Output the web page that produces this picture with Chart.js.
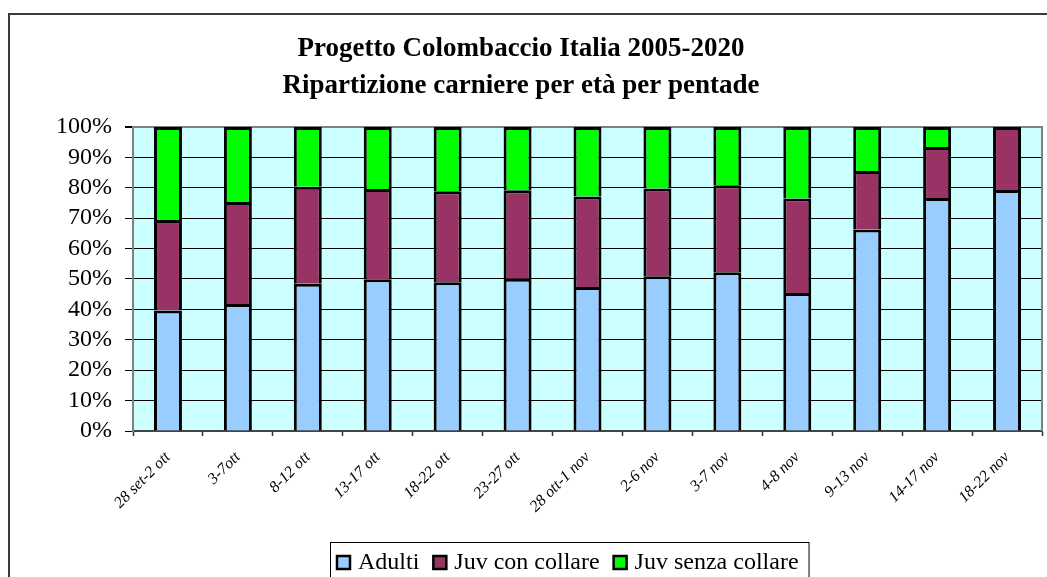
<!DOCTYPE html>
<html>
<head>
<meta charset="utf-8">
<script src="https://cdn.jsdelivr.net/npm/chart.js@4/dist/chart.umd.min.js"></script>
<style>
  html, body { margin: 0; padding: 0; background: #fff; overflow: hidden; }
  #wrap { position: relative; width: 1047px; height: 577px; overflow: hidden; }
  #frame { position: absolute; left: 8px; top: 13px; width: 1100px; height: 600px; border: 2px solid #3a3a3a; }
  #chart { position: absolute; left: 0; top: 0; }
</style>
</head>
<body>
<div id="wrap">
  <div id="frame"></div>
  <canvas id="chart" width="1072" height="577"></canvas>
</div>
<script>
const categories = ['28 set-2 ott', '3-7ott', '8-12 ott', '13-17 ott', '18-22 ott', '23-27 ott', '28 ott-1 nov', '2-6 nov', '3-7 nov', '4-8 nov', '9-13 nov', '14-17 nov', '18-22 nov'];
const adulti = [39.6, 41.8, 48.4, 49.9, 48.9, 50.1, 47.4, 50.9, 52.2, 45.4, 66.3, 76.6, 79.3];
const juvConCollare = [29.8, 33.5, 31.9, 29.7, 30.0, 29.1, 29.7, 28.9, 28.6, 31.1, 19.2, 16.8, 20.7];
const juvSenzaCollare = [30.6, 24.7, 19.7, 20.4, 21.1, 20.8, 22.9, 20.2, 19.2, 23.5, 14.5, 6.6, 0];
const seriesNames = ['Adulti', 'Juv con collare', 'Juv senza collare'];
const seriesColors = ['#99CCFF', '#993366', '#00FF00'];
const titleLines = ['Progetto Colombaccio Italia 2005-2020', 'Ripartizione carniere per età per pentade'];

const serif = '"Liberation Serif", "Times New Roman", serif';

// plot background + grey frame on top/right
const plotBackground = {
    id: 'plotBackground',
    beforeDraw(chart) {
        const { ctx, chartArea: a } = chart;
        ctx.save();
        ctx.fillStyle = '#CCFFFF';
        ctx.fillRect(a.left, a.top, a.right - a.left, a.bottom - a.top);
        ctx.restore();
    },
    beforeDatasetsDraw(chart) {
        const { ctx, chartArea: a } = chart;
        ctx.save();
        ctx.strokeStyle = '#808080';
        ctx.lineWidth = 2;
        ctx.beginPath();
        ctx.moveTo(a.left, a.top);
        ctx.lineTo(a.right, a.top);
        ctx.lineTo(a.right, a.bottom);
        ctx.stroke();
        ctx.restore();
    }
};

// boxed legend under the axis labels
const boxLegend = {
    id: 'boxLegend',
    afterDraw(chart) {
        const ctx = chart.ctx;
        const left = 330, top = 542, baseline = 569;
        ctx.save();
        ctx.font = '24px ' + serif;
        ctx.textBaseline = 'alphabetic';
        let x = left + 7;
        chart.data.datasets.forEach((ds) => {
            ctx.fillStyle = ds.backgroundColor;
            ctx.fillRect(x, 556, 13, 13);
            ctx.strokeStyle = '#000';
            ctx.lineWidth = 2.5;
            ctx.strokeRect(x, 556, 13, 13);
            x += 21;
            ctx.fillStyle = '#000';
            ctx.fillText(ds.label, x, baseline);
            x += ctx.measureText(ds.label).width + 14;
        });
        ctx.strokeStyle = '#000';
        ctx.lineWidth = 1;
        ctx.strokeRect(left + 0.5, top + 0.5, x - left - 4, 60);
        ctx.restore();
    }
};

const datasets = [adulti, juvConCollare, juvSenzaCollare].map((values, i) => ({
    label: seriesNames[i],
    data: values,
    backgroundColor: seriesColors[i],
    borderColor: '#000',
    borderWidth: 3,
    barPercentage: 0.4,
    categoryPercentage: 1
}));

new Chart(document.getElementById('chart').getContext('2d'), {
    type: 'bar',
    data: { labels: categories, datasets: datasets },
    plugins: [plotBackground, boxLegend],
    options: {
        responsive: false,
        animation: false,
        layout: { padding: { left: 0, right: 30, top: 0, bottom: 0 } },
        plugins: {
            legend: { display: false },
            tooltip: { enabled: false },
            title: {
                display: true,
                text: titleLines,
                color: '#000',
                font: { family: serif, size: 27, weight: 'bold', lineHeight: 1.37 },
                padding: { top: 31, bottom: 22 }
            }
        },
        scales: {
            x: {
                stacked: true,
                afterFit: (s) => { s.height = 146; },
                grid: { offset: true, drawOnChartArea: false, tickLength: 5, tickColor: '#333', tickWidth: 1.5 },
                border: { color: '#444', width: 2 },
                ticks: {
                    autoSkip: false,
                    minRotation: 45,
                    maxRotation: 45,
                    padding: 12,
                    color: '#000',
                    font: { family: serif, size: 16, style: 'italic' }
                }
            },
            y: {
                stacked: true,
                min: 0,
                max: 100,
                afterFit: (s) => { s.width = 133; },
                grid: {
                    color: (c) => c.tick && c.tick.value === 100 ? '#808080' : '#000',
                    lineWidth: (c) => c.tick && c.tick.value === 100 ? 2 : 1,
                    tickLength: 8,
                    tickColor: '#000'
                },
                border: { color: '#808080', width: 2 },
                ticks: {
                    stepSize: 10,
                    autoSkip: false,
                    padding: 13,
                    color: '#000',
                    font: { family: serif, size: 24 },
                    callback: (v) => v + '%'
                }
            }
        }
    }
});
</script>
</body>
</html>
